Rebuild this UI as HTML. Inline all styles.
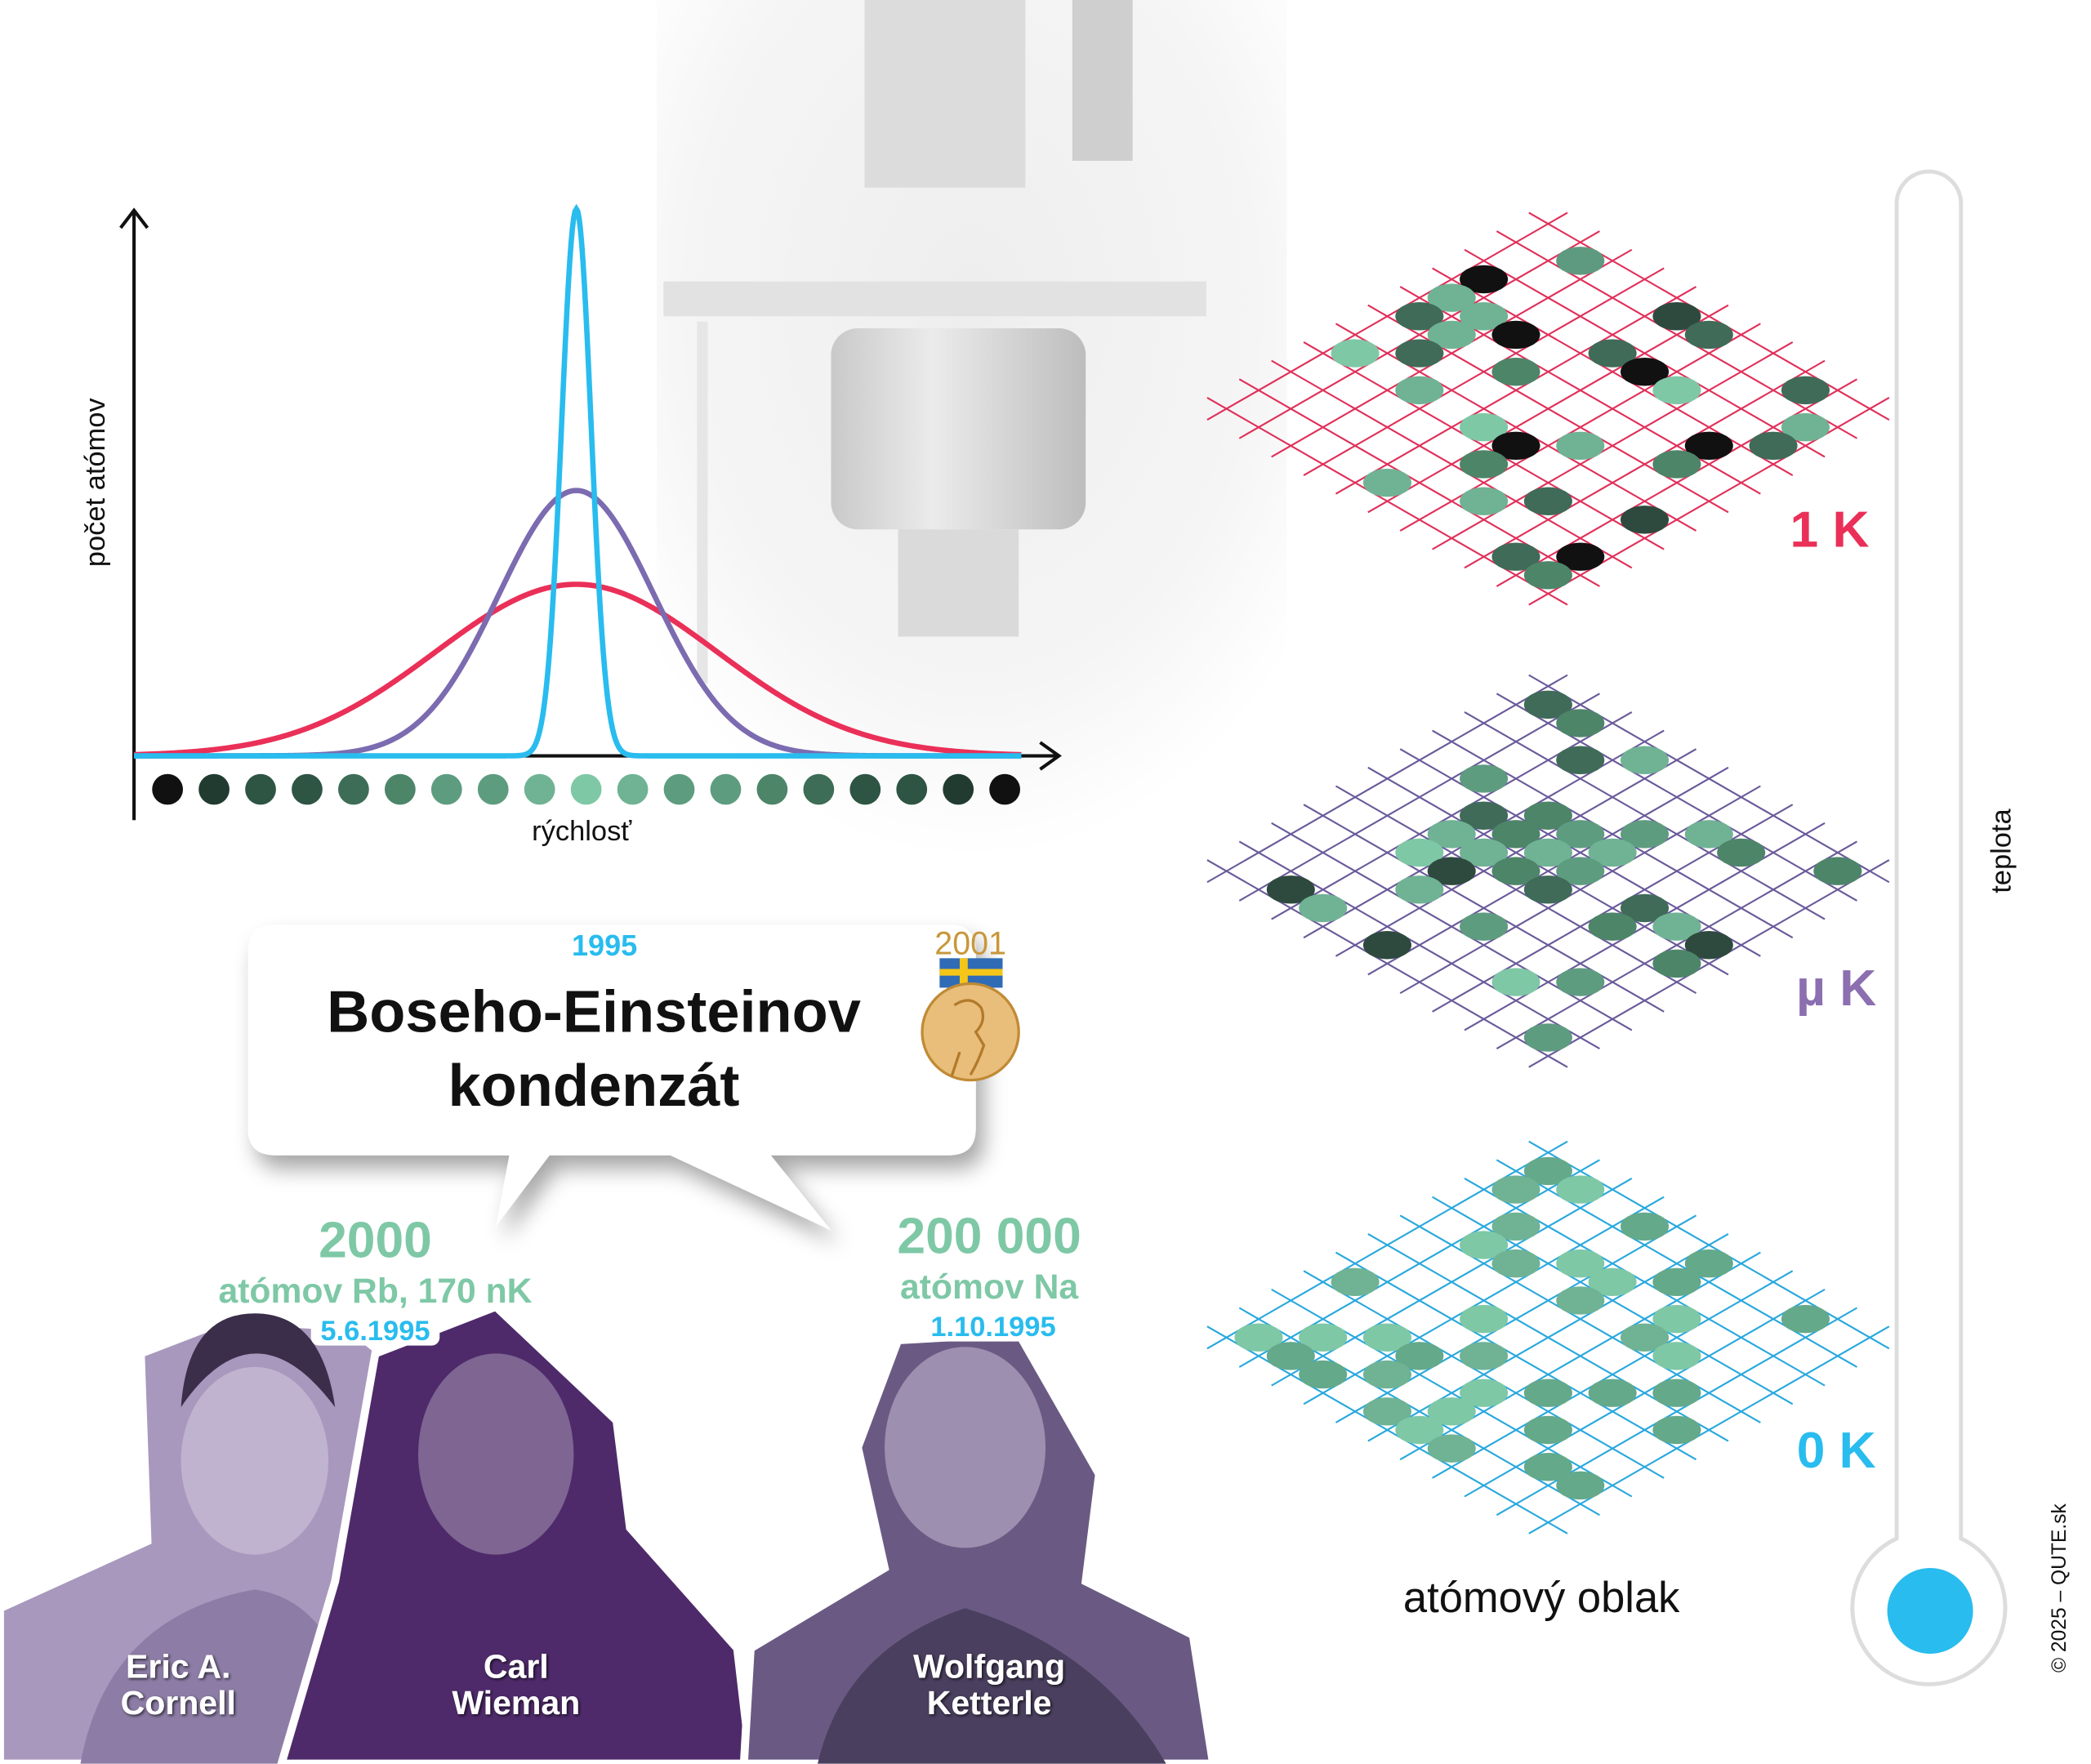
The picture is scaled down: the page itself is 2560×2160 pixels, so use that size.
<!DOCTYPE html>
<html><head><meta charset="utf-8"><style>
html,body{margin:0;padding:0;background:#fff;}
svg{display:block;}
text{font-family:"Liberation Sans","DejaVu Sans",sans-serif;}
</style></head><body>
<svg id="s" xmlns="http://www.w3.org/2000/svg" width="2560" height="2160" viewBox="0 0 1560 1316.25">
<defs>
<radialGradient id="fade" cx="0.5" cy="0.35" r="0.65">
<stop offset="0" stop-color="#eeeeee"/><stop offset="0.7" stop-color="#f5f5f5"/><stop offset="1" stop-color="#fff"/>
</radialGradient>
<linearGradient id="cyl" x1="0" x2="1">
<stop offset="0" stop-color="#c9c9c9"/><stop offset="0.4" stop-color="#ebebeb"/><stop offset="1" stop-color="#bdbdbd"/>
</linearGradient>
<linearGradient id="therm" x1="0" y1="0" x2="0" y2="1">
<stop offset="0" stop-color="#ea3058"/><stop offset="0.5" stop-color="#8b6fb0"/><stop offset="1" stop-color="#29bcee"/>
</linearGradient>
<filter id="sh" x="-20%" y="-20%" width="140%" height="160%"><feDropShadow dx="6" dy="10" stdDeviation="8" flood-color="#000" flood-opacity="0.35"/></filter>
<filter id="ts"><feDropShadow dx="1" dy="1" stdDeviation="1.2" flood-color="#000" flood-opacity="0.7"/></filter>
</defs>
<rect x="490" y="0" width="470" height="640" fill="url(#fade)"/>
<rect x="645" y="0" width="120" height="140" fill="#dcdcdc"/>
<rect x="800" y="0" width="45" height="120" fill="#cfcfcf"/>
<rect x="495" y="210" width="405" height="26" fill="#e2e2e2"/>
<rect x="520" y="240" width="8" height="270" fill="#e6e6e6"/>
<rect x="620" y="245" width="190" height="150" rx="20" fill="url(#cyl)"/>
<rect x="670" y="395" width="90" height="80" fill="#dadada"/>
<g stroke="#111" stroke-width="2.5" fill="none">
<line x1="100" y1="612" x2="100" y2="158"/>
<polyline points="90,170 100,157 110,170"/>
<line x1="100" y1="564" x2="788" y2="564"/>
<polyline points="776,554 790,564 776,574"/>
</g>
<g id="curves" fill="none" stroke-width="4"></g>
<g id="dots"></g>
<text x="78" y="360" font-size="21" fill="#111" text-anchor="middle" transform="rotate(-90 78 360)">počet atómov</text>
<text x="434" y="627" font-size="21" fill="#111" text-anchor="middle">rýchlosť</text>
<path d="M205,690 H708 Q728,690 728,710 V842 Q728,862 708,862 H575 L620,918 L500,862 H410 L370,915 L380,862 H205 Q185,862 185,842 V710 Q185,690 205,690 Z" fill="#fff" filter="url(#sh)"/>
<text x="451" y="713" font-size="22" font-weight="bold" fill="#29bcee" text-anchor="middle">1995</text>
<text x="443" y="770" font-size="44" font-weight="bold" fill="#111" text-anchor="middle">Boseho-Einsteinov</text>
<text x="443" y="825" font-size="44" font-weight="bold" fill="#111" text-anchor="middle">kondenzát</text>
<text x="724" y="712" font-size="24" fill="#c8973a" text-anchor="middle">2001</text>
<rect x="701" y="715" width="47" height="22" fill="#2f6cb5"/>
<rect x="701" y="723" width="47" height="5" fill="#f5c518"/>
<rect x="716" y="715" width="6" height="22" fill="#f5c518"/>
<circle cx="724" cy="770" r="36" fill="#e9be7a" stroke="#c08a35" stroke-width="2"/>
<path d="M712,750 q12,-8 20,2 q4,10 -4,18 l6,10 q-4,12 -10,22 M716,785 l-6,18" stroke="#b27a2c" stroke-width="2" fill="none"/>
<text x="280" y="938" font-size="38" font-weight="bold" fill="#7ec8a6" text-anchor="middle">2000</text>
<text x="280" y="972" font-size="26" font-weight="bold" fill="#7ec8a6" text-anchor="middle">atómov Rb, 170 nK</text>
<text x="738" y="935" font-size="38" font-weight="bold" fill="#7ec8a6" text-anchor="middle">200 000</text>
<text x="738" y="969" font-size="26" font-weight="bold" fill="#7ec8a6" text-anchor="middle">atómov Na</text>
<polygon points="0,1200 110,1150 105,1010 170,985 260,990 285,1010 270,1140 250,1316 0,1316" fill="#a898bd" stroke="#fff" stroke-width="6"/>
<ellipse cx="190" cy="1090" rx="55" ry="70" fill="#bfb3cf"/>
<path d="M135,1050 q55,-80 115,0 q-10,-70 -60,-70 q-50,0 -55,70z" fill="#3a2e4a"/>
<path d="M60,1316 q20,-110 130,-130 q70,10 80,130z" fill="#8d7da6"/>
<polygon points="210,1316 250,1180 280,1010 370,975 460,1060 470,1140 550,1230 560,1316" fill="#4e2a6a" stroke="#fff" stroke-width="6"/>
<ellipse cx="370" cy="1085" rx="58" ry="75" fill="#7e6592"/>
<polygon points="555,1316 560,1230 660,1170 640,1080 670,1000 760,995 820,1100 810,1180 890,1220 905,1316" fill="#6a5a83" stroke="#fff" stroke-width="6"/>
<ellipse cx="720" cy="1080" rx="60" ry="75" fill="#9d8fb0"/>
<path d="M610,1316 Q630,1230 720,1200 Q820,1230 870,1316 Z" fill="#4a3f5e"/>
<rect x="232" y="980" width="96" height="24" rx="6" fill="#fff"/>
<text x="280" y="1000" font-size="21" font-weight="bold" fill="#29bcee" text-anchor="middle">5.6.1995</text>
<rect x="689" y="977" width="104" height="24" rx="6" fill="#fff"/>
<text x="741" y="997" font-size="21" font-weight="bold" fill="#29bcee" text-anchor="middle">1.10.1995</text>
<g font-size="25" font-weight="bold" fill="#fff" text-anchor="middle" filter="url(#ts)">
<text x="133" y="1252">Eric A.</text><text x="133" y="1279">Cornell</text>
<text x="385" y="1252">Carl</text><text x="385" y="1279">Wieman</text>
<text x="738" y="1252">Wolfgang</text><text x="738" y="1279">Ketterle</text>
</g>
<g id="grids"></g>
<text x="1365" y="408" font-size="38" font-weight="bold" fill="#ea3058" text-anchor="middle">1 K</text>
<text x="1370" y="750" font-size="38" font-weight="bold" fill="#8b6fb0" text-anchor="middle">µ K</text>
<text x="1370" y="1095" font-size="38" font-weight="bold" fill="#29bcee" text-anchor="middle">0 K</text>
<text x="1150" y="1203" font-size="32" fill="#111" text-anchor="middle">atómový oblak</text>
<path d="M1415,152 A24,24 0 0 1 1463,152 V1148 A57,57 0 1 1 1415,1148 Z" fill="#fff" stroke="#ddd" stroke-width="3"/>
<line x1="1440" y1="152" x2="1440" y2="1185" stroke="url(#therm)" stroke-width="14" stroke-linecap="round"/>
<circle cx="1440" cy="1202" r="32" fill="#29bcee"/>
<text x="1500" y="635" font-size="21" fill="#111" text-anchor="middle" transform="rotate(-90 1500 635)">teplota</text>
<text x="1541" y="1185" font-size="15" fill="#111" text-anchor="middle" transform="rotate(-90 1541 1185)">© 2025 – QUTE.sk</text>
</svg>
<script>
var NS="http://www.w3.org/2000/svg";
function el(p,t,a){var e=document.createElementNS(NS,t);for(var k in a)e.setAttribute(k,a[k]);p.appendChild(e);return e;}
var cg=document.getElementById("curves");
function curve(amp,sig,col){var d="";for(var x=100;x<=762;x+=1){var y=564-amp*Math.exp(-Math.pow(x-430,2)/(2*sig*sig));d+=(x==100?"M":"L")+x+","+y.toFixed(2);}el(cg,"path",{d:d,stroke:col});}
curve(128,105,"#ea3058");curve(198,58,"#7c6bb0");curve(408,11,"#29bcee");
var dg=document.getElementById("dots");
var cols=["#7ec8a6","#6fb394","#5e9c80","#4d8569","#3d6d56","#2e5443","#213b30","#111"];
for(var i=0;i<19;i++){var t=Math.abs(i-9)/9;el(dg,"circle",{cx:125+i*34.7,cy:589,r:11.5,fill:cols[Math.round(t*7)]});}
var gg=document.getElementById("grids");
var seed=11;function rnd(){seed=(seed*9301+49297)%233280;return seed/233280;}
function grid(cy,col,pal,prob){var top=[1155,cy-140],a=[24,13.8],b=[-24,13.8],N=10;
function P(i,j){return [top[0]+i*a[0]+j*b[0],top[1]+i*a[1]+j*b[1]];}
for(var i=0;i<=N;i++){var p=P(i,-0.6),q=P(i,N+0.6);el(gg,"line",{x1:p[0],y1:p[1],x2:q[0],y2:q[1],stroke:col,"stroke-width":1.3});
p=P(-0.6,i);q=P(N+0.6,i);el(gg,"line",{x1:p[0],y1:p[1],x2:q[0],y2:q[1],stroke:col,"stroke-width":1.3});}
for(var i=0;i<N;i++)for(var j=0;j<N;j++){if(rnd()<prob){var p=P(i+0.5,j+0.5);el(gg,"ellipse",{cx:p[0],cy:p[1],rx:18,ry:10.5,fill:pal[Math.floor(rnd()*pal.length)]});}}}
grid(307,"#e0305a",["#111","#2e4a3e","#3f6b58","#5e9a80","#7ec8a6","#6fb394","#4d8569"],0.36);
grid(652,"#6a5a9a",["#3f6b58","#4d8569","#5e9c80","#7ec8a6","#6fb394","#2e4a3e","#6fb394"],0.36);
grid(1000,"#29a8dd",["#6fb394","#7ec8a6","#64a98a"],0.36);
</script>
</body></html>
